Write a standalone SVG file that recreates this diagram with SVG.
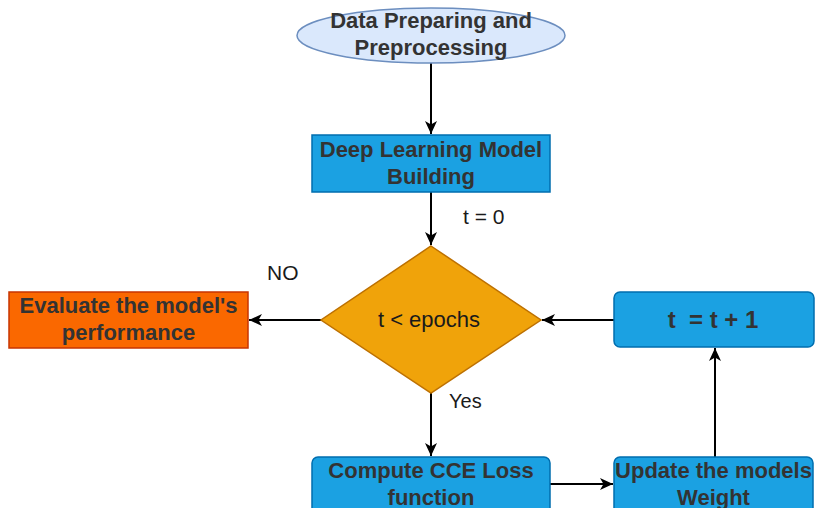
<svg xmlns="http://www.w3.org/2000/svg" width="815" height="508" viewBox="0 0 815 508">
<defs>
<marker id="arr" markerWidth="14" markerHeight="12" refX="13" refY="6" orient="auto" markerUnits="userSpaceOnUse">
<path d="M0,0 L13,6 L0,12 L3.5,6 Z" fill="#000"/>
</marker>
<style>
.t{font-family:"Liberation Sans",Arial,sans-serif;font-weight:bold;font-size:22px;fill:#333333;text-anchor:middle}
.n{font-family:"Liberation Sans",Arial,sans-serif;font-size:20px;fill:#1a1a1a}
.blue{fill:#1ba1e2;stroke:#006eaf;stroke-width:1.5}
.edge{stroke:#000;stroke-width:2;fill:none;marker-end:url(#arr)}
</style>
</defs>
<rect width="815" height="508" fill="#fff"/>
<g id="connectors">
<line class="edge" x1="431" y1="63" x2="431" y2="134"/>
<line class="edge" x1="431" y1="192" x2="431" y2="245"/>
<line class="edge" x1="321" y1="320" x2="249" y2="320"/>
<line class="edge" x1="614" y1="320" x2="542" y2="320"/>
<line class="edge" x1="431" y1="392" x2="431" y2="456"/>
<line class="edge" x1="550" y1="484" x2="613" y2="484"/>
<line class="edge" x1="715" y1="457" x2="715" y2="348"/>
</g>
<g id="lbl-t0"><text class="n" x="463" y="224" style="font-size:21px">t = 0</text></g>
<g id="lbl-no"><text class="n" x="267" y="280" style="font-size:21px">NO</text></g>
<g id="lbl-yes"><text class="n" x="449" y="408">Yes</text></g>
<g id="data">
<ellipse cx="431" cy="35.5" rx="134" ry="27.5" fill="#dae8fc" stroke="#6c8ebf" stroke-width="1.5"/>
<text class="t" x="431" y="28">Data Preparing and</text>
<text class="t" x="431" y="55">Preprocessing</text>
</g>
<g id="build">
<rect class="blue" x="312" y="135" width="238" height="57"/>
<text class="t" x="431" y="157">Deep Learning Model</text>
<text class="t" x="431" y="184">Building</text>
</g>
<g id="decision">
<polygon points="431,246 541,320 431,393 321,320" fill="#f0a30a" stroke="#bd7000" stroke-width="1.5"/>
<text class="n" x="429" y="327" style="font-size:22px;text-anchor:middle">t &lt; epochs</text>
</g>
<g id="evaluate">
<rect x="9" y="292" width="239" height="56" fill="#fa6800" stroke="#c73500" stroke-width="1.5"/>
<text class="t" x="128.5" y="313">Evaluate the model's</text>
<text class="t" x="128.5" y="340">performance</text>
</g>
<g id="increment">
<rect class="blue" x="614" y="292" width="200" height="55" rx="6"/>
<text class="t" x="713" y="328" style="font-size:24px" xml:space="preserve">t  = t + 1</text>
</g>
<g id="compute">
<rect class="blue" x="312" y="457" width="238" height="60" rx="6"/>
<text class="t" x="431" y="478">Compute CCE Loss</text>
<text class="t" x="431" y="505">function</text>
</g>
<g id="update">
<rect class="blue" x="614" y="457" width="199" height="60" rx="6"/>
<text class="t" x="713.5" y="478">Update the models</text>
<text class="t" x="713.5" y="505">Weight</text>
</g>
</svg>
